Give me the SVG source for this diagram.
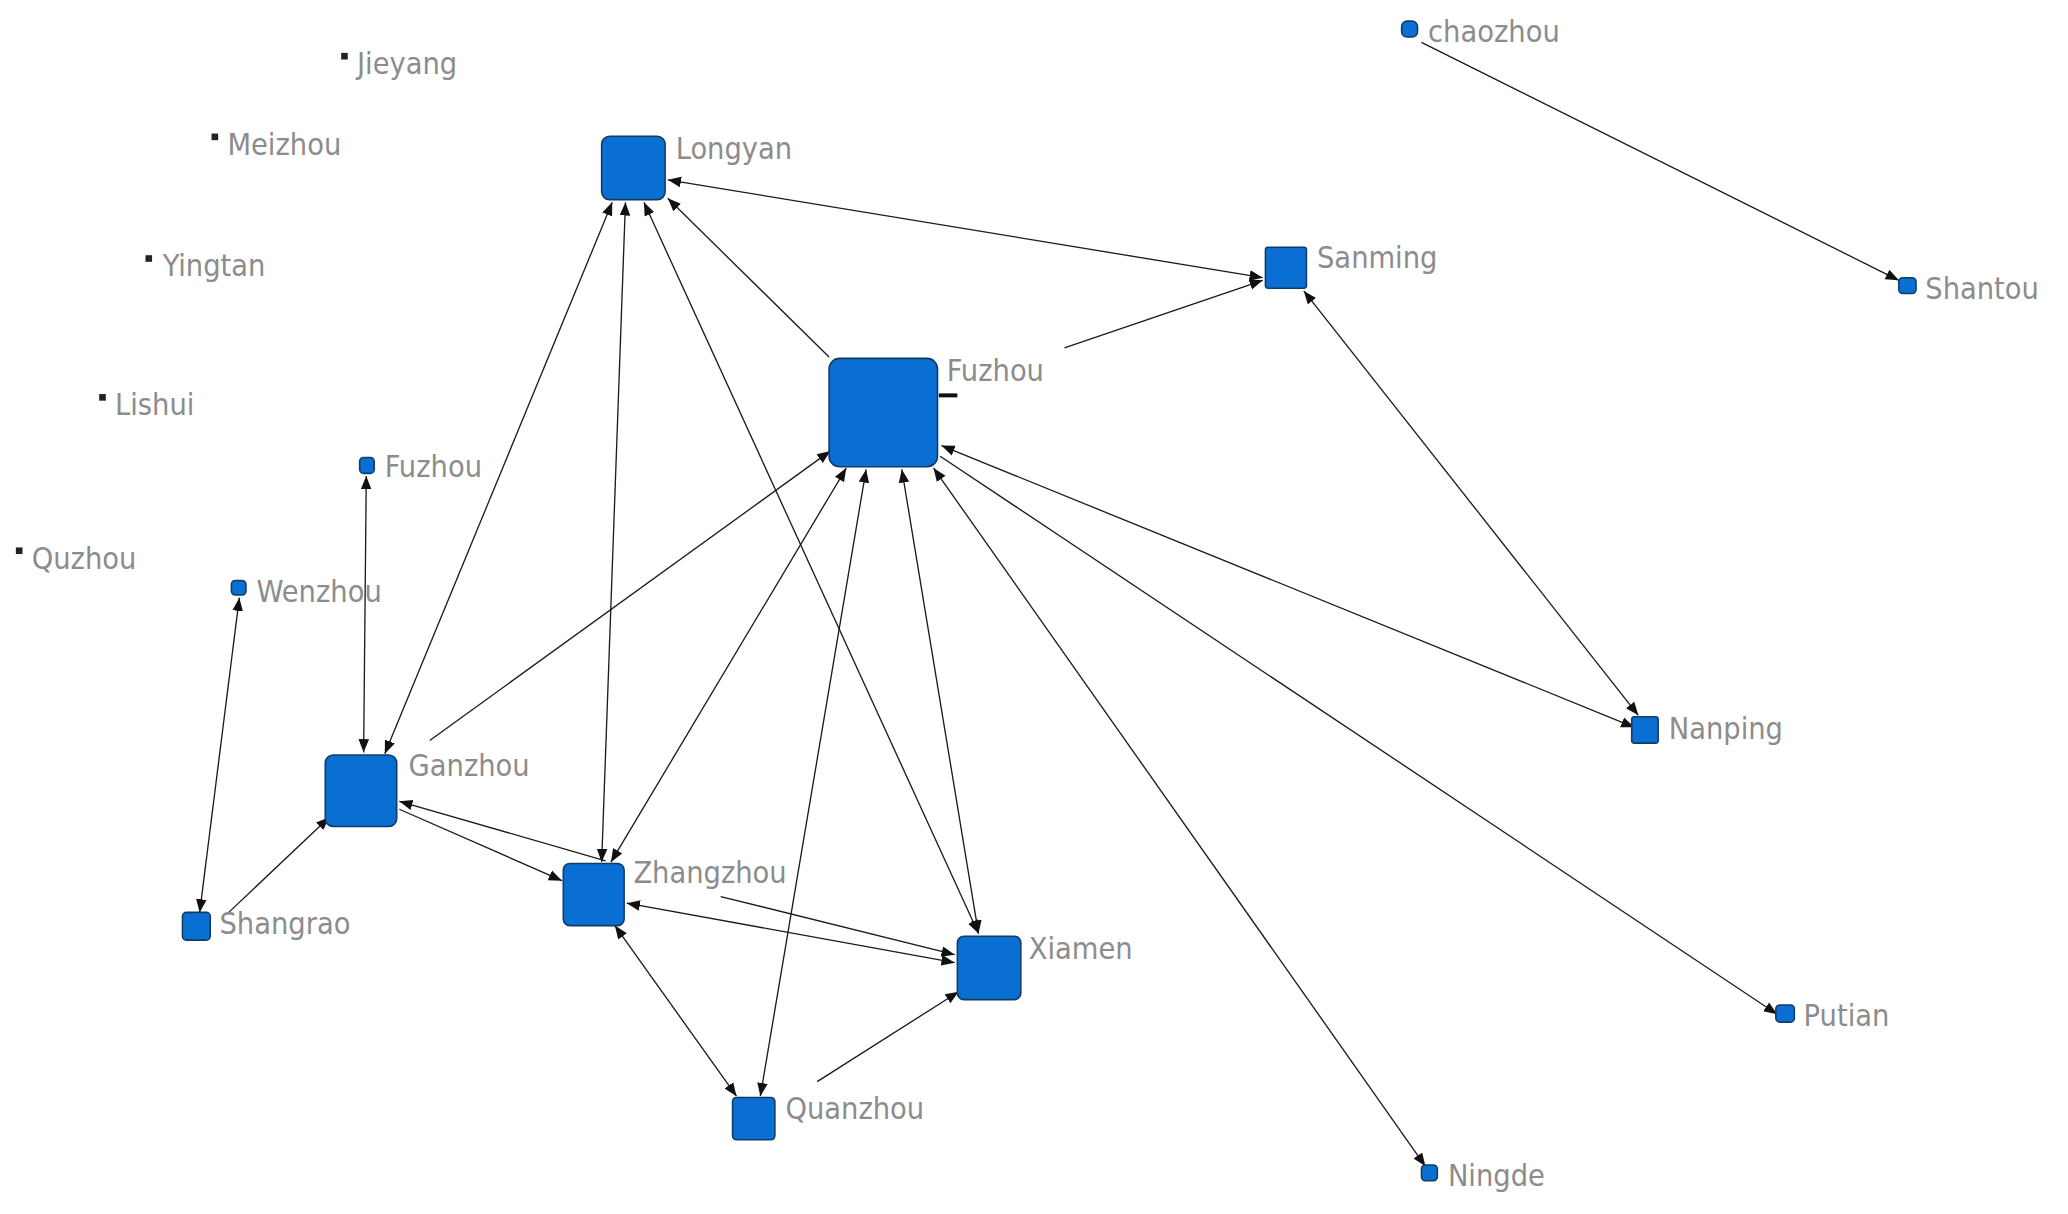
<svg xmlns="http://www.w3.org/2000/svg" width="2068" height="1214" viewBox="0 0 2068 1214">
<style>
.n{fill:#0a6fd2;stroke:#103c66;stroke-width:1.2}
.d{fill:#222}
.t{font-family:"DejaVu Sans Condensed","DejaVu Sans",sans-serif;font-size:23px;fill:#8c8c8c}
.e{stroke:#1a1a1a;stroke-width:1;fill:none}
</style>
<defs>
<marker id="a" viewBox="0 0 10 10" refX="10" refY="5" markerWidth="10" markerHeight="10" markerUnits="userSpaceOnUse" orient="auto-start-reverse"><path d="M0,1 L10,5 L0,9 z" fill="#111"/></marker>
</defs>
<rect width="2068" height="1214" fill="#fff"/>
<g transform="scale(1.3223)">
<g id="edges">
<line class="e" x1="1075" y1="32" x2="1436" y2="212" marker-end="url(#a)"/>
<line class="e" x1="505" y1="136" x2="955" y2="210" marker-start="url(#a)" marker-end="url(#a)"/>
<line class="e" x1="805" y1="263" x2="955" y2="212" marker-end="url(#a)"/>
<line class="e" x1="627" y1="270" x2="505" y2="150" marker-end="url(#a)"/>
<line class="e" x1="463" y1="153" x2="291" y2="570" marker-start="url(#a)" marker-end="url(#a)"/>
<line class="e" x1="473" y1="153" x2="455" y2="652" marker-start="url(#a)" marker-end="url(#a)"/>
<line class="e" x1="487" y1="153" x2="740" y2="706" marker-start="url(#a)" marker-end="url(#a)"/>
<line class="e" x1="277" y1="360" x2="275" y2="569" marker-start="url(#a)" marker-end="url(#a)"/>
<line class="e" x1="181" y1="452" x2="151" y2="690" marker-start="url(#a)" marker-end="url(#a)"/>
<line class="e" x1="173" y1="690" x2="249" y2="618" marker-end="url(#a)"/>
<line class="e" x1="325" y1="560" x2="628" y2="341" marker-end="url(#a)"/>
<line class="e" x1="302" y1="606" x2="458" y2="651" marker-start="url(#a)"/>
<line class="e" x1="302" y1="612" x2="425" y2="666" marker-end="url(#a)"/>
<line class="e" x1="462" y1="652" x2="640" y2="354" marker-start="url(#a)" marker-end="url(#a)"/>
<line class="e" x1="575" y1="829" x2="655" y2="355" marker-start="url(#a)" marker-end="url(#a)"/>
<line class="e" x1="682" y1="355" x2="740" y2="706" marker-start="url(#a)" marker-end="url(#a)"/>
<line class="e" x1="712" y1="337" x2="1236" y2="550" marker-start="url(#a)" marker-end="url(#a)"/>
<line class="e" x1="711" y1="345" x2="1344" y2="767" marker-end="url(#a)"/>
<line class="e" x1="706" y1="354" x2="1078" y2="882" marker-start="url(#a)" marker-end="url(#a)"/>
<line class="e" x1="986" y1="220" x2="1239" y2="541" marker-start="url(#a)" marker-end="url(#a)"/>
<line class="e" x1="474" y1="683" x2="722" y2="728" marker-start="url(#a)" marker-end="url(#a)"/>
<line class="e" x1="545" y1="678" x2="722" y2="722" marker-end="url(#a)"/>
<line class="e" x1="465" y1="700" x2="557" y2="829" marker-start="url(#a)" marker-end="url(#a)"/>
<line class="e" x1="618" y1="818" x2="725" y2="750" marker-end="url(#a)"/>
<line x1="710" y1="299" x2="724" y2="299" stroke="#111" stroke-width="3"/>
</g>
<g id="Jieyang"><rect class="d" x="258" y="40" width="5" height="5"/><text class="t" x="270" y="56">Jieyang</text></g>
<g id="Meizhou"><rect class="d" x="160" y="101" width="5" height="5"/><text class="t" x="172" y="117">Meizhou</text></g>
<g id="Yingtan"><rect class="d" x="110" y="193" width="5" height="5"/><text class="t" x="123" y="209">Yingtan</text></g>
<g id="Lishui"><rect class="d" x="75" y="298" width="5" height="5"/><text class="t" x="87" y="314">Lishui</text></g>
<g id="Quzhou"><rect class="d" x="12" y="414" width="5" height="5"/><text class="t" x="24" y="430">Quzhou</text></g>
<g id="Fuzhou-small"><rect class="n" x="272" y="346" width="11" height="12" rx="3"/><text class="t" x="291" y="361">Fuzhou</text></g>
<g id="Wenzhou"><rect class="n" x="175" y="439" width="11" height="11" rx="3"/><text class="t" x="194" y="455">Wenzhou</text></g>
<g id="Longyan"><rect class="n" x="455" y="103" width="48" height="48" rx="6"/><text class="t" x="511" y="120">Longyan</text></g>
<g id="Sanming"><rect class="n" x="957" y="187" width="31" height="31" rx="2"/><text class="t" x="996" y="203">Sanming</text></g>
<g id="Fuzhou"><rect class="n" x="627" y="271" width="82" height="82" rx="8"/><text class="t" x="716" y="288">Fuzhou</text></g>
<g id="chaozhou"><rect class="n" x="1060" y="16" width="12" height="12" rx="4"/><text class="t" x="1080" y="32">chaozhou</text></g>
<g id="Shantou"><rect class="n" x="1436" y="210" width="13" height="12" rx="3"/><text class="t" x="1456" y="226">Shantou</text></g>
<g id="Nanping"><rect class="n" x="1234" y="542" width="20" height="20" rx="2"/><text class="t" x="1262" y="559">Nanping</text></g>
<g id="Putian"><rect class="n" x="1343" y="760" width="14" height="13" rx="3"/><text class="t" x="1364" y="776">Putian</text></g>
<g id="Ningde"><rect class="n" x="1075" y="881" width="12" height="12" rx="3"/><text class="t" x="1095" y="897">Ningde</text></g>
<g id="Ganzhou"><rect class="n" x="246" y="571" width="54" height="54" rx="6"/><text class="t" x="309" y="587">Ganzhou</text></g>
<g id="Shangrao"><rect class="n" x="138" y="690" width="21" height="21" rx="3"/><text class="t" x="166" y="706">Shangrao</text></g>
<g id="Zhangzhou"><rect class="n" x="426" y="653" width="46" height="47" rx="5"/><text class="t" x="479" y="668">Zhangzhou</text></g>
<g id="Xiamen"><rect class="n" x="724" y="708" width="48" height="48" rx="5"/><text class="t" x="778" y="725">Xiamen</text></g>
<g id="Quanzhou"><rect class="n" x="554" y="830" width="32" height="32" rx="3"/><text class="t" x="594" y="846">Quanzhou</text></g>
</g>
</svg>
